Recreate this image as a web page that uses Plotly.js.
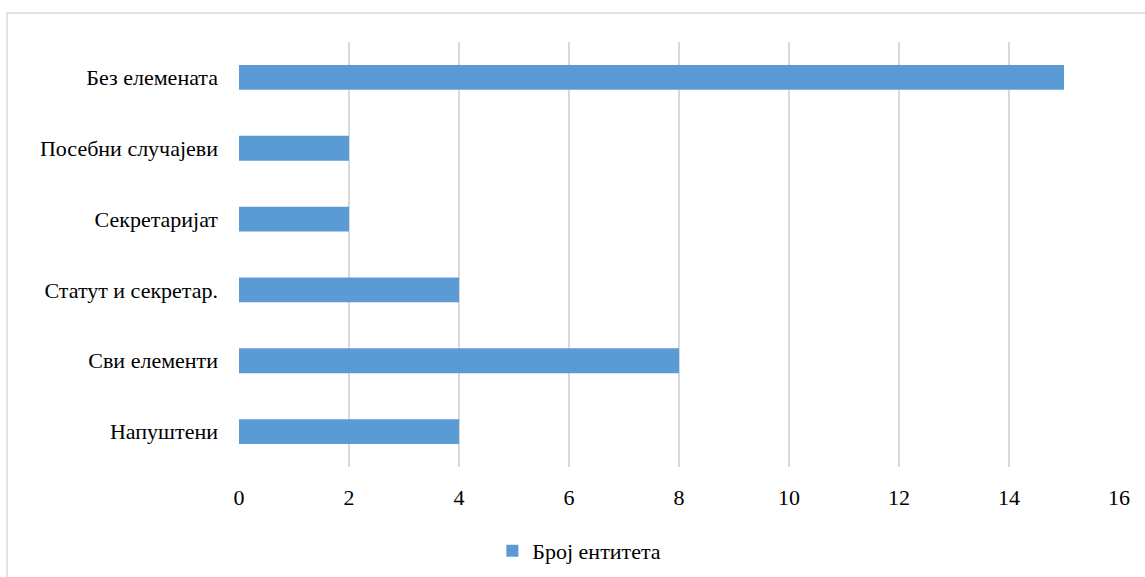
<!DOCTYPE html>
<html><head><meta charset="utf-8">
<script src="https://cdn.plot.ly/plotly-3.0.1.min.js"></script>
<style>html,body{margin:0;padding:0;background:#fff;}#chart{width:1145px;height:577px;}</style>
</head><body><div id="chart"></div>
<script>
const categories = ["Напуштени", "Сви елементи", "Статут и секретар.", "Секретаријат", "Посебни случајеви", "Без елемената"];
const values = [4, 8, 4, 2, 2, 15];
const seriesName = "Број ентитета";
const xTicks = [0, 2, 4, 6, 8, 10, 12, 14, 16];

const font = {family: "'Times New Roman', 'Liberation Serif', Tinos, 'DejaVu Serif', serif", size: 22, color: "#000"};
Plotly.newPlot("chart", [{
  type: "bar", orientation: "h", y: categories, x: values, name: seriesName,
  marker: {color: "#5B9BD5", line: {width: 0}}, width: 0.35, showlegend: true
}], {
  width: 1145, height: 577,
  margin: {l: 239, r: 26, t: 42, b: 110},
  paper_bgcolor: "#fff", plot_bgcolor: "#fff",
  font: font,
  xaxis: {range: [0, 16], tickvals: xTicks, ticktext: xTicks.map(String), showgrid: true, gridcolor: "#d9d9d9", gridwidth: 1.5,
          zeroline: false, showline: false, ticks: "", ticklabelstandoff: 15, tickfont: font, fixedrange: true, automargin: false},
  yaxis: {type: "category", showgrid: false, zeroline: false, showline: false, ticks: "", ticklabelstandoff: 20, tickfont: font, fixedrange: true, automargin: false},
  legend: {orientation: "h", xref: "container", x: 0.43, xanchor: "left", yref: "container", y: 0.045, yanchor: "middle", font: font, itemwidth: 30},
  shapes: [{type: "rect", xref: "paper", yref: "paper", x0: -0.2636, x1: 1.05, y0: -0.3, y1: 1.068,
            line: {color: "#d9d9d9", width: 1.5}, fillcolor: "rgba(0,0,0,0)", layer: "below"}]
}, {displayModeBar: false, staticPlot: true});
</script></body></html>
